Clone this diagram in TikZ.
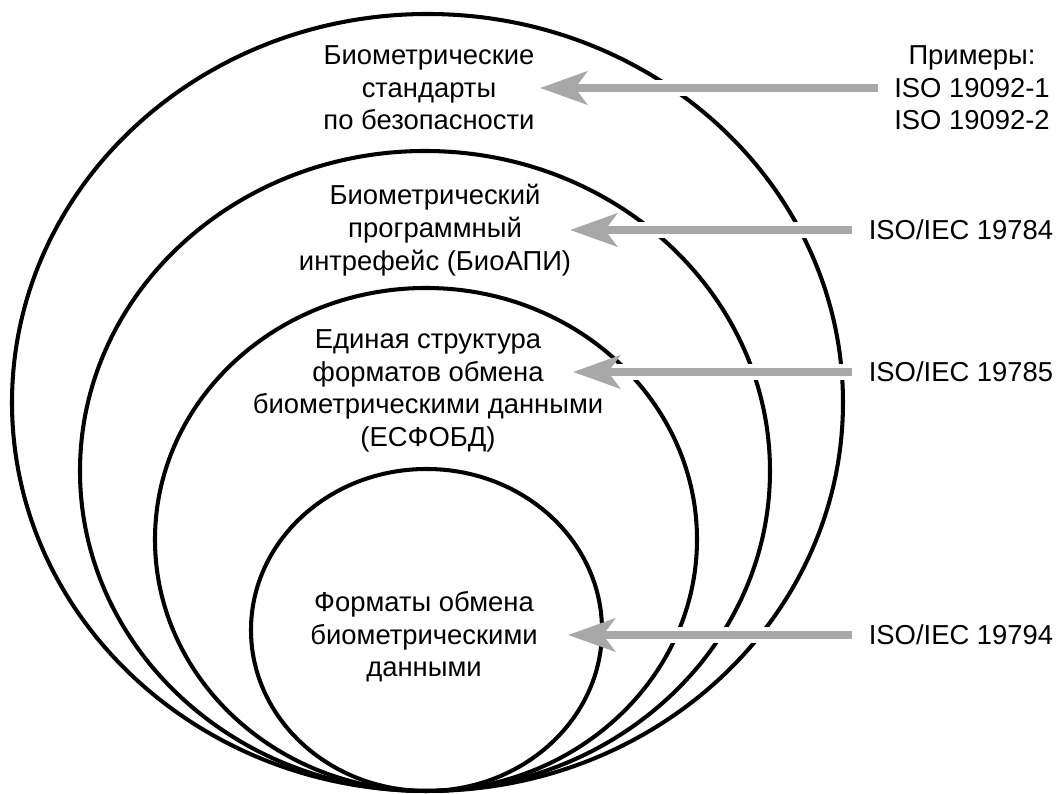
\documentclass[tikz,border=0pt]{standalone}
\usepackage{fontspec}
\setmainfont{Liberation Sans}
\usetikzlibrary{arrows.meta}
\definecolor{arrowgray}{gray}{0.66}

\begin{document}
\begin{tikzpicture}[
        ring/.style={line width=1.15pt},
        txt/.style={align=center,inner sep=0pt,font=\fontsize{7.8}{9.3}\selectfont},
        gap/.style={white,line width=4.8pt},
        ptr/.style={arrowgray,line width=2.3pt,-{Stealth[length=0.47cm,width=0.33cm,inset=0.12cm]}}]
        \useasboundingbox (0,0) rectangle (10.58,7.94);
        % nested rings, all touching at the bottom
        \draw[ring] (4.275,3.915) ellipse [x radius=4.155, y radius=3.885];
        \draw[ring] (4.25,3.23) ellipse [x radius=3.45, y radius=3.2];
        \draw[ring] (4.26,2.545) ellipse [x radius=2.71, y radius=2.515];
        \draw[ring] (4.265,1.64) ellipse [x radius=1.755, y radius=1.61];
        % ring labels
        \node[txt] (secur) at (4.29,7.06) {Биометрические\\стандарты\\по безопасности};
        \node[txt] (bioapi) at (4.35,5.64) {Биометрический\\программный\\интрефейс (БиоАПИ)};
        \node[txt] (cbeff) at (4.28,4.03) {Единая структура\\форматов обмена\\биометрическими данными\\(ЕСФОБД)};
        \node[txt] (formats) at (4.24,1.57) {Форматы обмена\\биометрическими\\данными};
        % standards on the right
        \node[txt] (ex1) at (9.72,7.06) {Примеры:\\ISO 19092-1\\ISO 19092-2};
        \node[txt] (ex2) at (9.61,5.64) {ISO/IEC 19784};
        \node[txt] (ex3) at (9.61,4.22) {ISO/IEC 19785};
        \node[txt] (ex4) at (9.61,1.59) {ISO/IEC 19794};
        \coordinate (tip1) at (5.40,7.06);
        \coordinate (tip2) at (5.70,5.64);
        \coordinate (tip3) at (5.73,4.22);
        \coordinate (tip4) at (5.68,1.59);
        \draw[gap] ([xshift=-0.16cm]ex1.west) -- ([xshift=0.4cm]tip1);
        \draw[gap] ([xshift=-0.16cm]ex2.west) -- ([xshift=0.4cm]tip2);
        \draw[gap] ([xshift=-0.16cm]ex3.west) -- ([xshift=0.4cm]tip3);
        \draw[gap] ([xshift=-0.16cm]ex4.west) -- ([xshift=0.4cm]tip4);
        \draw[ptr] ([xshift=-0.16cm]ex1.west) -- (tip1);
        \draw[ptr] ([xshift=-0.16cm]ex2.west) -- (tip2);
        \draw[ptr] ([xshift=-0.16cm]ex3.west) -- (tip3);
        \draw[ptr] ([xshift=-0.16cm]ex4.west) -- (tip4);
\end{tikzpicture}
\end{document}
